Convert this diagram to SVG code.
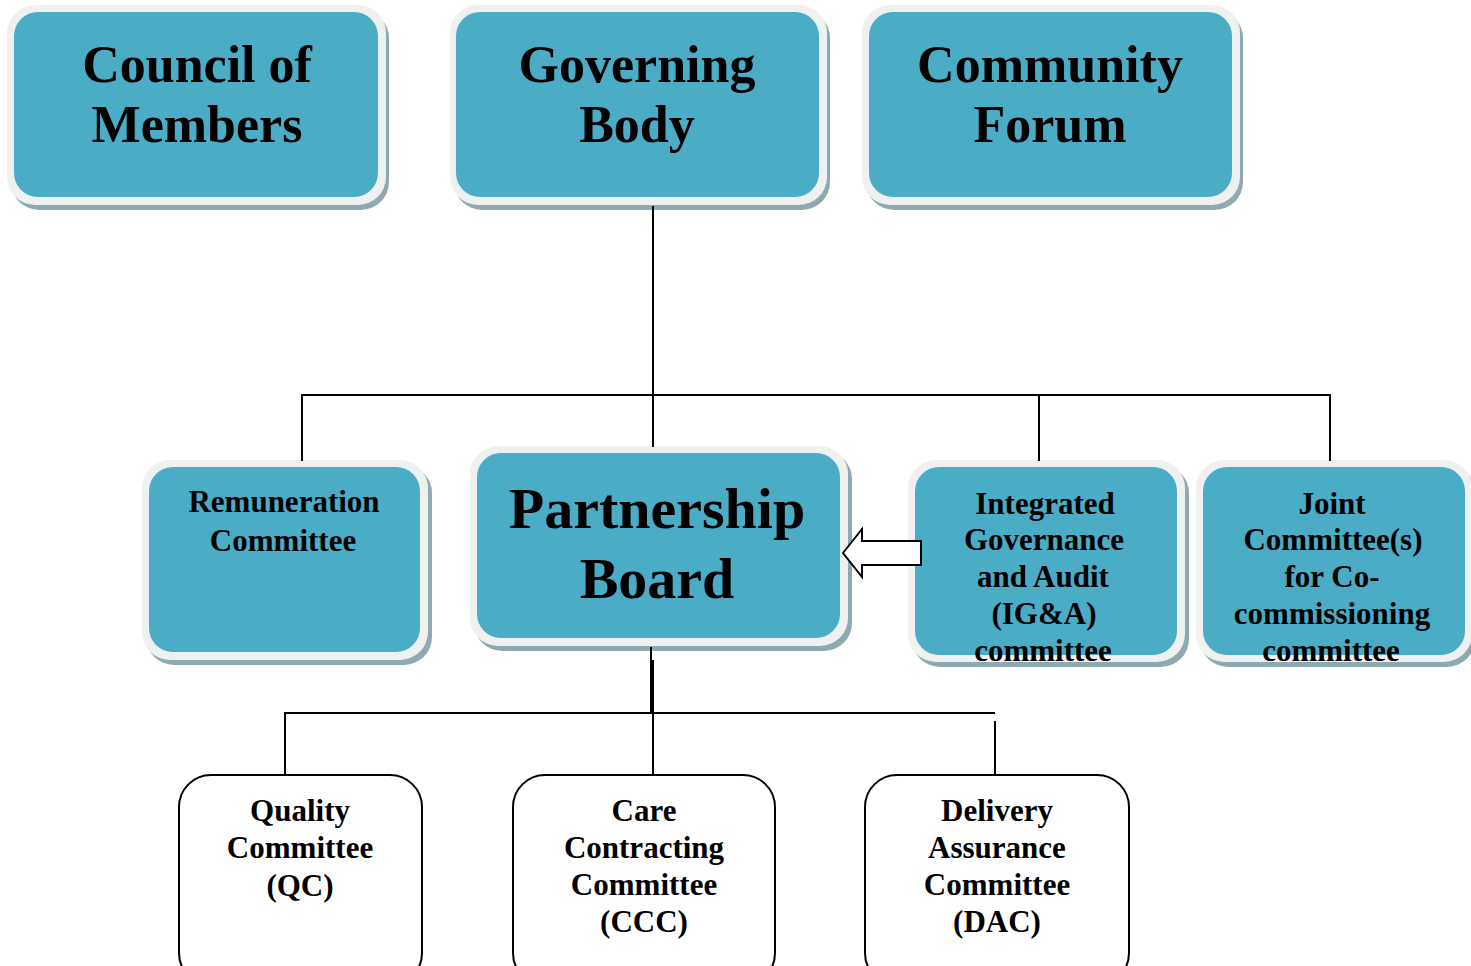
<svg xmlns="http://www.w3.org/2000/svg" width="1471" height="966" viewBox="0 0 1471 966">
<style>
.sh{fill:#8fa9b2}
.wb{fill:#eff1f1}
.tl{fill:#4bacc6}
.wn{fill:#ffffff;stroke:#000;stroke-width:2}
.t{font-family:"Liberation Serif","Times New Roman",serif;font-weight:bold;fill:#000;text-anchor:middle}
.big{font-size:52px}
.pb{font-size:58px}
.sm{font-size:31px}
.ln{stroke:#000;stroke-width:2;fill:none}
</style>
<rect width="1471" height="966" fill="#fff"/>
<g id="council">
<rect class="sh" x="11" y="10" width="378" height="200" rx="28"/>
<rect class="wb" x="7" y="5" width="379" height="200" rx="28"/>
<rect class="tl" x="14" y="12" width="364" height="185" rx="24"/>
<text class="t big" x="197" y="82">Council of</text>
<text class="t big" x="197" y="142">Members</text>
</g>
<g id="governing">
<rect class="sh" x="454" y="10" width="376" height="200" rx="28"/>
<rect class="wb" x="450" y="5" width="377" height="200" rx="28"/>
<rect class="tl" x="456" y="12" width="363" height="185" rx="24"/>
<text class="t big" x="637" y="82">Governing</text>
<text class="t big" x="637" y="142">Body</text>
</g>
<g id="community">
<rect class="sh" x="866" y="10" width="377" height="200" rx="28"/>
<rect class="wb" x="862" y="5" width="378" height="200" rx="28"/>
<rect class="tl" x="869" y="12" width="363" height="185" rx="24"/>
<text class="t big" x="1050" y="82">Community</text>
<text class="t big" x="1050" y="142">Forum</text>
</g>
<g id="remuneration">
<rect class="sh" x="146" y="465" width="286" height="200" rx="28"/>
<rect class="wb" x="142" y="460" width="286" height="200" rx="28"/>
<rect class="tl" x="149" y="467" width="271" height="185" rx="24"/>
<text class="t sm" x="284" y="512">Remuneration</text>
<text class="t sm" x="283" y="551">Committee</text>
</g>
<g id="partnership">
<rect class="sh" x="474" y="451" width="378" height="200" rx="28"/>
<rect class="wb" x="470" y="446" width="378" height="200" rx="28"/>
<rect class="tl" x="477" y="453" width="363" height="185" rx="24"/>
<text class="t pb" x="657" y="528">Partnership</text>
<text class="t pb" x="657" y="598">Board</text>
</g>
<g id="iga">
<rect class="sh" x="912" y="465" width="277" height="202" rx="28"/>
<rect class="wb" x="908" y="460" width="277" height="202" rx="28"/>
<rect class="tl" x="915" y="467" width="262" height="188" rx="24"/>
<text class="t sm" x="1045" y="514">Integrated</text>
<text class="t sm" x="1044" y="550">Governance</text>
<text class="t sm" x="1043" y="587">and Audit</text>
<text class="t sm" x="1044" y="624">(IG&amp;A)</text>
<text class="t sm" x="1043" y="661">committee</text>
</g>
<g id="joint">
<rect class="sh" x="1200" y="465" width="275" height="202" rx="28"/>
<rect class="wb" x="1196" y="460" width="276" height="202" rx="28"/>
<rect class="tl" x="1203" y="467" width="262" height="188" rx="24"/>
<text class="t sm" x="1332" y="514">Joint</text>
<text class="t sm" x="1333" y="550">Committee(s)</text>
<text class="t sm" x="1332" y="587">for Co-</text>
<text class="t sm" x="1332" y="624">commissioning</text>
<text class="t sm" x="1331" y="661">committee</text>
</g>
<g id="qc">
<rect class="wn" x="179" y="775" width="243" height="210" rx="32"/>
<text class="t sm" x="300" y="821">Quality</text>
<text class="t sm" x="300" y="858">Committee</text>
<text class="t sm" x="300" y="896">(QC)</text>
</g>
<g id="ccc">
<rect class="wn" x="513" y="775" width="262" height="210" rx="32"/>
<text class="t sm" x="644" y="821">Care</text>
<text class="t sm" x="644" y="858">Contracting</text>
<text class="t sm" x="644" y="895">Committee</text>
<text class="t sm" x="644" y="932">(CCC)</text>
</g>
<g id="dac">
<rect class="wn" x="865" y="775" width="264" height="210" rx="32"/>
<text class="t sm" x="997" y="821">Delivery</text>
<text class="t sm" x="997" y="858">Assurance</text>
<text class="t sm" x="997" y="895">Committee</text>
<text class="t sm" x="997" y="932">(DAC)</text>
</g>
<g id="connectors">
<line class="ln" x1="653" y1="206" x2="653" y2="447"/>
<line class="ln" x1="302" y1="395" x2="1331" y2="395"/>
<line class="ln" x1="302" y1="394" x2="302" y2="461"/>
<line class="ln" x1="1039" y1="394" x2="1039" y2="461"/>
<line class="ln" x1="1330" y1="394" x2="1330" y2="461"/>
<line class="ln" x1="651" y1="647" x2="651" y2="713"/>
<line class="ln" x1="653" y1="660" x2="653" y2="776"/>
<line class="ln" x1="285" y1="713" x2="995" y2="713"/>
<line class="ln" x1="285" y1="712" x2="285" y2="775"/>
<line class="ln" x1="995" y1="721" x2="995" y2="775"/>
<path d="M843,553 L862,529 L862,541 L921,541 L921,565 L862,565 L862,577 Z" fill="#fff" stroke="#000" stroke-width="2"/>
</g>
</svg>
